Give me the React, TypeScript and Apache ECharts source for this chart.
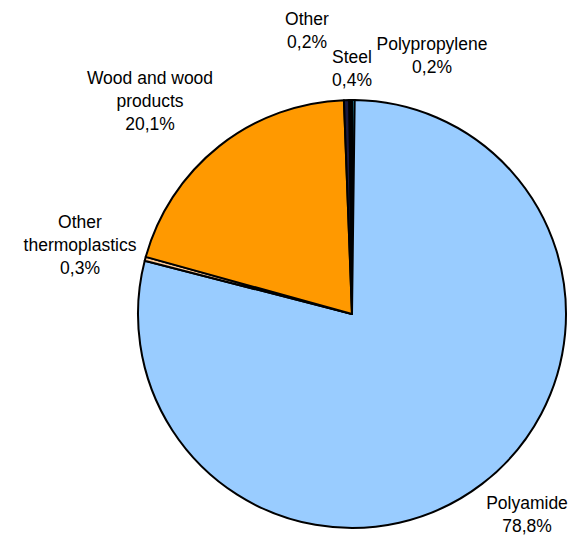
import React, { useEffect, useRef } from "react";
import * as echarts from "echarts";

const categories = ["Polypropylene", "Polyamide", "Other thermoplastics", "Wood and wood products", "Steel", "Other"];
const labelTexts = ["Polypropylene", "Polyamide", "Other\nthermoplastics", "Wood and wood\nproducts", "Steel", "Other"];
const values = [0.2, 78.8, 0.3, 20.1, 0.4, 0.2];
const colors = ["#33CCFF", "#99CCFF", "#FFCC99", "#FF9900", "#1A1A40", "#000000"];

// label block centres (layout only)
const labelPos: Record<string, [number, number]> = {
  "Polypropylene": [432, 55],
  "Polyamide": [527, 514],
  "Other thermoplastics": [80, 245],
  "Wood and wood products": [150, 101],
  "Steel": [352, 68],
  "Other": [307, 30],
};

export default function App() {
  const ref = useRef<HTMLDivElement>(null);
  useEffect(() => {
    if (!ref.current) return;
    const chart = echarts.init(ref.current, null, { renderer: "svg" });
    chart.setOption({
      animation: false,
      backgroundColor: "#ffffff",
      series: [
        {
          type: "pie",
          center: [352, 314],
          radius: 214,
          startAngle: 90,
          clockwise: true,
          avoidLabelOverlap: false,
          itemStyle: { borderColor: "#000000", borderWidth: 2 },
          label: {
            show: true,
            position: "outside",
            fontFamily: "Liberation Sans, Arial, sans-serif",
            fontSize: 17.5,
            lineHeight: 23,
            color: "#000000",
            align: "center",
            formatter: (p: any) =>
              labelTexts[p.dataIndex] + "\n" + Number(p.value).toFixed(1).replace(".", ",") + "%",
          },
          labelLine: { show: false },
          labelLayout: (params: any) => {
            const pos = labelPos[categories[params.dataIndex]];
            return { x: pos[0], y: pos[1], align: "center", verticalAlign: "middle" };
          },
          emphasis: { disabled: true },
          data: categories.map((name, i) => ({
            name,
            value: values[i],
            itemStyle: { color: colors[i] },
          })),
        },
      ],
    });
    return () => chart.dispose();
  }, []);
  return (
    <div
      ref={ref}
      style={{ position: "fixed", left: 0, top: 0, width: 575, height: 537, background: "#fff" }}
    />
  );
}
